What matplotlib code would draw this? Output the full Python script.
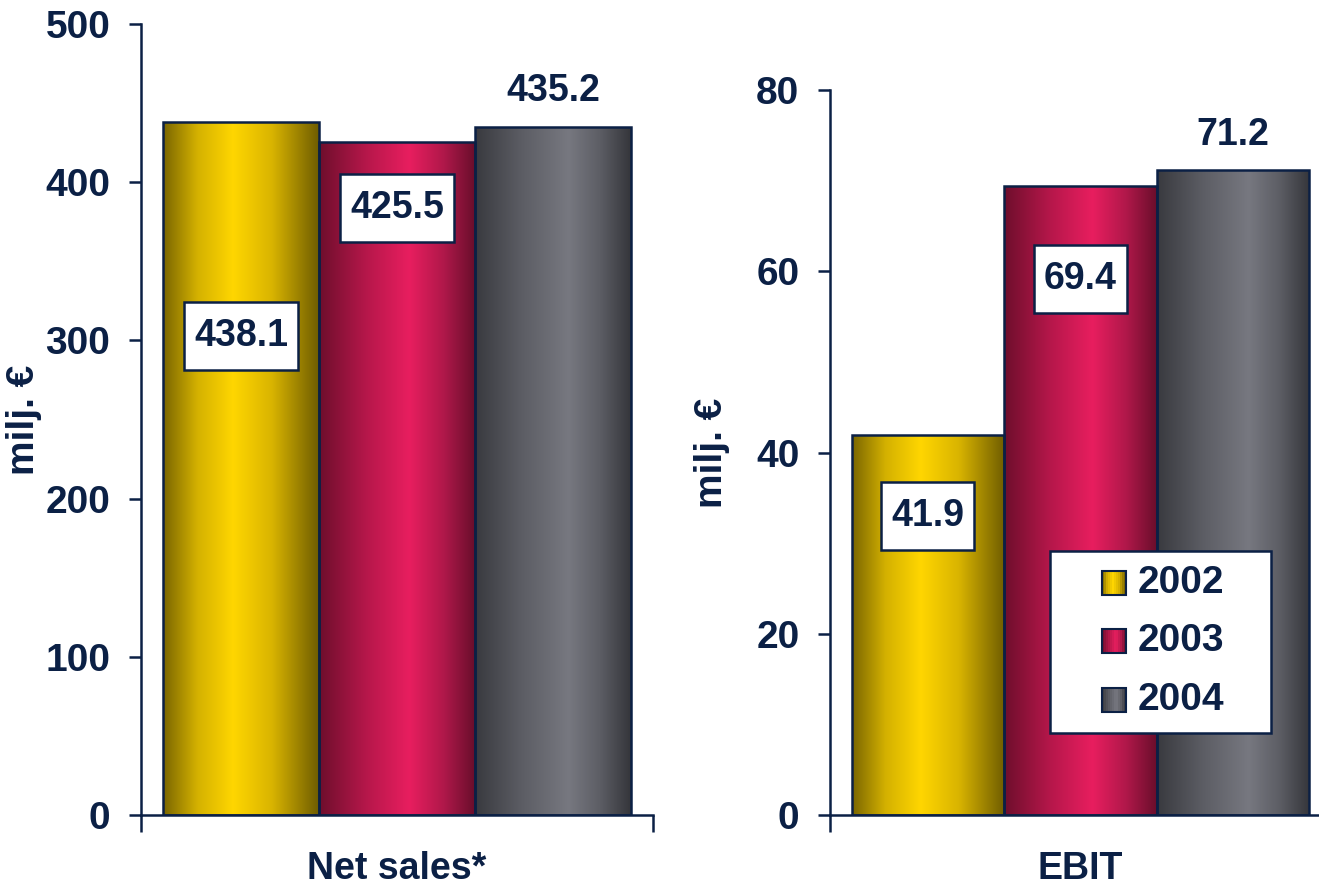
import numpy as np
import matplotlib
matplotlib.use("Agg")
from matplotlib import pyplot as plt
from matplotlib.colors import LinearSegmentedColormap
from matplotlib.patches import Rectangle

# Data
years = ["2002", "2003", "2004"]
net_sales = [438.1, 425.5, 435.2]
ebit = [41.9, 69.4, 71.2]
# where each value label sits (value units), and whether it gets a white box
net_sales_label_y = [303, 384, 457.7]
ebit_label_y = [33.0, 59.2, 75.0]
net_sales_boxed = [True, True, False]
ebit_boxed = [True, True, False]

NAVY = "#0b2045"
plt.rcParams['font.family'] = ['Liberation Sans', 'DejaVu Sans']
plt.rcParams['font.weight'] = 'bold'

# cylinder-ish shading for each year: (position, colour) stops
shades = {
    "2002": [(0.0, "#7a6600"), (0.22, "#d4b100"), (0.45, "#ffd600"), (0.7, "#d9b400"), (1.0, "#6f5d00")],
    "2003": [(0.0, "#6e0e2c"), (0.3, "#b5174a"), (0.58, "#e81e5f"), (0.8, "#b0184a"), (1.0, "#6a0e2b")],
    "2004": [(0.0, "#393a3f"), (0.3, "#5c5d64"), (0.6, "#777880"), (0.8, "#5d5e65"), (1.0, "#35363b")],
}
cmaps = {k: LinearSegmentedColormap.from_list(k, v) for k, v in shades.items()}
grad = np.linspace(0, 1, 256).reshape(1, -1)


def shaded_bars(ax, values):
    bars = ax.bar(range(len(values)), values, width=1.0, color="none",
                  edgecolor=NAVY, linewidth=1.8, zorder=3)
    for bar, yr in zip(bars, years):
        x0 = bar.get_x()
        im = ax.imshow(grad, cmap=cmaps[yr], aspect="auto", zorder=2,
                       extent=(x0, x0 + bar.get_width(), 0, bar.get_height()))
        im.set_clip_path(bar)
    return bars


def value_labels(ax, values, ys, boxed):
    texts = []
    for i, (v, y) in enumerate(zip(values, ys)):
        t = ax.text(i, y, f"{v:.1f}", ha="center", va="center", fontsize=27,
                    color=NAVY, fontweight="bold", zorder=6)
        texts.append(t)
    return [t for t, b in zip(texts, boxed) if b]


def add_boxes(ax, texts, renderer, padx=10, height=68):
    # white framed box behind a label: fixed pixel height, a little wider than the text
    inv = ax.transData.inverted()
    for t in texts:
        bb = t.get_window_extent(renderer)
        cy = (bb.y0 + bb.y1) / 2
        (x0, y0), (x1, y1) = inv.transform([(bb.x0 - padx, cy - height / 2),
                                            (bb.x1 + padx, cy + height / 2)])
        ax.add_patch(Rectangle((x0, y0), x1 - x0, y1 - y0, fc="white", ec=NAVY,
                               lw=1.8, zorder=5))


def style_axis(ax, ymax, step, xlabel, label_x):
    for s in ("top", "right"):
        ax.spines[s].set_visible(False)
    for s in ("left", "bottom"):
        ax.spines[s].set_color(NAVY)
        ax.spines[s].set_linewidth(1.8)
    ax.set_ylim(0, ymax)
    ax.set_yticks(np.arange(0, ymax + 1, step))
    ax.tick_params(axis="y", direction="out", length=9, width=1.8, color=NAVY,
                   labelsize=28, labelcolor=NAVY, pad=13)
    ax.tick_params(axis="x", direction="out", length=12, width=1.8, color=NAVY,
                   labelbottom=False)
    for t in ax.get_yticklabels():
        t.set_fontweight("bold")
    ax.set_ylabel("milj. €", fontsize=28, color=NAVY, fontweight="bold")
    ax.yaxis.set_label_coords(label_x, 0.5)
    ax.set_xlabel(xlabel, fontsize=27, color=NAVY, fontweight="bold", labelpad=14)


fig = plt.figure(figsize=(13.19, 8.86), dpi=100)
ax1 = fig.add_axes([0.1069, 0.0801, 0.3882, 0.8928])
ax2 = fig.add_axes([0.6293, 0.0801, 0.3798, 0.8183])

shaded_bars(ax1, net_sales)
boxed1 = value_labels(ax1, net_sales, net_sales_label_y, net_sales_boxed)
style_axis(ax1, 500, 100, "Net sales*", -0.193)

shaded_bars(ax2, ebit)
boxed2 = value_labels(ax2, ebit, ebit_label_y, ebit_boxed)
style_axis(ax2, 80, 20, "EBIT", -0.20)

for ax in (ax1, ax2):
    ax.set_xlim(-0.642, 2.642)
    ax.set_xticks([-0.642, 2.642])

renderer = fig.canvas.get_renderer()
add_boxes(ax1, boxed1, renderer)
add_boxes(ax2, boxed2, renderer)

# legend, drawn in axes fractions of the EBIT panel
tr = ax2.transAxes
ax2.add_patch(Rectangle((0.439, 0.113), 0.441, 0.251, transform=tr, fc="white",
                        ec=NAVY, lw=1.8, zorder=7))
row_y = [0.320, 0.240, 0.159]
sq_w, sq_h = 0.048, 0.033
for yr, ry in zip(years, row_y):
    n = 12
    for k in range(n):
        ax2.add_patch(Rectangle((0.543 + sq_w * k / n, ry - sq_h / 2), sq_w / n, sq_h,
                                transform=tr, fc=cmaps[yr]((k + 0.5) / n), ec="none", zorder=8))
    ax2.add_patch(Rectangle((0.543, ry - sq_h / 2), sq_w, sq_h, transform=tr,
                            fc="none", ec=NAVY, lw=1.5, zorder=9))
    ax2.text(0.614, ry, yr, transform=tr, ha="left", va="center", fontsize=28,
             color=NAVY, fontweight="bold", zorder=9)

fig.savefig("out.png", dpi=100)
